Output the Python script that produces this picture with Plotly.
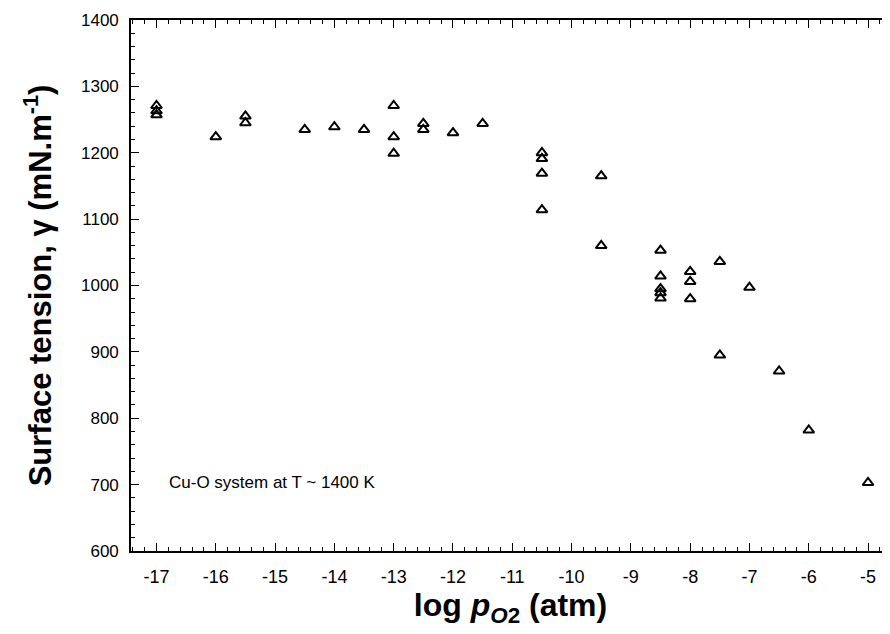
import plotly.graph_objects as go

# Data (log pO2 in atm, surface tension in mN/m)
log_po2 = [-17, -17, -17,
           -16,
           -15.5, -15.5,
           -14.5,
           -14,
           -13.5,
           -13, -13, -13,
           -12.5, -12.5,
           -12,
           -11.5,
           -10.5, -10.5, -10.5, -10.5,
           -9.5, -9.5,
           -8.5, -8.5, -8.5, -8.5, -8.5,
           -8, -8, -8,
           -7.5, -7.5,
           -7,
           -6.5,
           -6,
           -5]
surface_tension = [1271, 1263, 1257,
                   1224,
                   1255, 1245,
                   1235,
                   1239,
                   1235,
                   1271, 1224, 1199,
                   1244, 1235,
                   1230,
                   1244,
                   1200, 1191, 1169, 1114,
                   1165, 1060,
                   1053, 1014, 995, 989, 981,
                   1021, 1006, 980,
                   1036, 895,
                   997,
                   871,
                   782,
                   703]

x_ticks = [-17, -16, -15, -14, -13, -12, -11, -10, -9, -8, -7, -6, -5]
y_ticks = [600, 700, 800, 900, 1000, 1100, 1200, 1300, 1400]
annotation_text = "Cu-O system at T ~ 1400 K"

FONT = "Liberation Sans, Arial, sans-serif"

fig = go.Figure()
fig.add_trace(go.Scatter(
    x=log_po2, y=surface_tension, mode="markers",
    marker=dict(symbol="triangle-up-open", size=9.5, color="black",
                line=dict(width=2, color="black")),
    showlegend=False, cliponaxis=False,
))

fig.add_annotation(x=-16.82, y=703, xref="x", yref="y", text=annotation_text,
                   showarrow=False, xanchor="left", yanchor="middle",
                   font=dict(family=FONT, size=17, color="black"))

axis_common = dict(
    showline=True, linecolor="black", linewidth=1.6, mirror="allticks",
    ticks="inside", ticklen=8, tickwidth=1.4, tickcolor="black",
    showgrid=False, zeroline=False,
)

fig.update_xaxes(
    **axis_common,
    range=[-17.43, -4.63], tickvals=x_ticks,
    ticktext=[str(v) for v in x_ticks],
    tickfont=dict(family=FONT, size=18, color="black"),
    minor=dict(dtick=0.2, tick0=-17, ticks="inside", ticklen=4,
               tickwidth=1.2, tickcolor="black", showgrid=False),
    ticklabelstandoff=9,
    title=dict(text="<b>log <i>p</i><sub><i>O</i>2</sub> (atm)</b>",
               font=dict(family=FONT, size=32, color="black"), standoff=6),
)
fig.update_yaxes(
    **axis_common,
    range=[600, 1400], tickvals=y_ticks,
    tickfont=dict(family=FONT, size=17, color="black"),
    minor=dict(dtick=20, tick0=600, ticks="inside", ticklen=4,
               tickwidth=1.2, tickcolor="black", showgrid=False),
    ticklabelstandoff=7,
    title=dict(text="<b>Surface tension, γ (mN.m<sup>-1</sup>)</b>",
               font=dict(family=FONT, size=31, color="black"), standoff=20),
)

# The page body has an 8 px margin, so the figure is sized to fit inside it
fig.update_layout(
    width=882, height=626,
    margin=dict(l=123, r=0, t=12, b=83, autoexpand=False),
    plot_bgcolor="white", paper_bgcolor="white",
    font=dict(family=FONT, color="black"),
)

fig.write_html("out.html")
